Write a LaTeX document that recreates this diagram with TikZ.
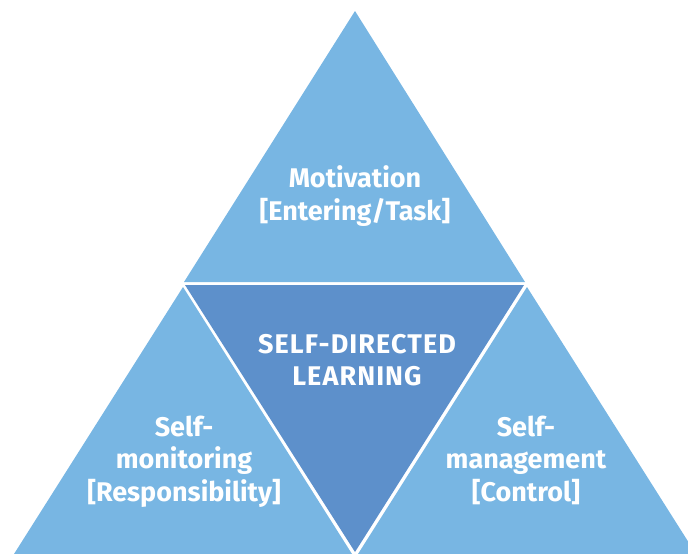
\documentclass[tikz,border=0pt]{standalone}
\usepackage{fontspec}
\setmainfont{Fira Sans}
\newfontfamily\capsfont{Fira Sans}[LetterSpace=4]
\definecolor{lightblu}{RGB}{120,182,227}
\definecolor{darkblu}{RGB}{93,144,203}
\begin{document}
\begin{tikzpicture}[x=1pt,y=-1pt,
  tri/.style={fill=lightblu},
  midtri/.style={fill=darkblu},
  lbl/.style={text=white,font=\fontsize{27}{32.5}\selectfont\bfseries,align=center,inner sep=0pt}]
\useasboundingbox (0,0) rectangle (688,554);
\begin{scope}
\clip (0,0) rectangle (688,554);
% top
\fill[tri] (355,11) -- (184,282) -- (525,282) -- cycle;
% middle
\fill[midtri] (185,285) -- (524,285) -- (355,552) -- cycle;
% left
\fill[tri] (183,287) -- (14,554) -- (352,554) -- cycle;
% right
\fill[tri] (527,287) -- (358,554) -- (696,554) -- cycle;
\end{scope}
\node[lbl,anchor=base] (mot) at (355,220) {Motivation\\{[}Entering/Task{]}};
\node[lbl,anchor=base,font=\fontsize{27}{32}\capsfont\bfseries] (sdl) at (357,385) {SELF-DIRECTED\\LEARNING};
\node[lbl,anchor=base] (mon) at (184,501) {Self-\\monitoring\\{[}Responsibility{]}};
\node[lbl,anchor=base] (man) at (526,501) {Self-\\management\\{[}Control{]}};
\end{tikzpicture}
\end{document}
